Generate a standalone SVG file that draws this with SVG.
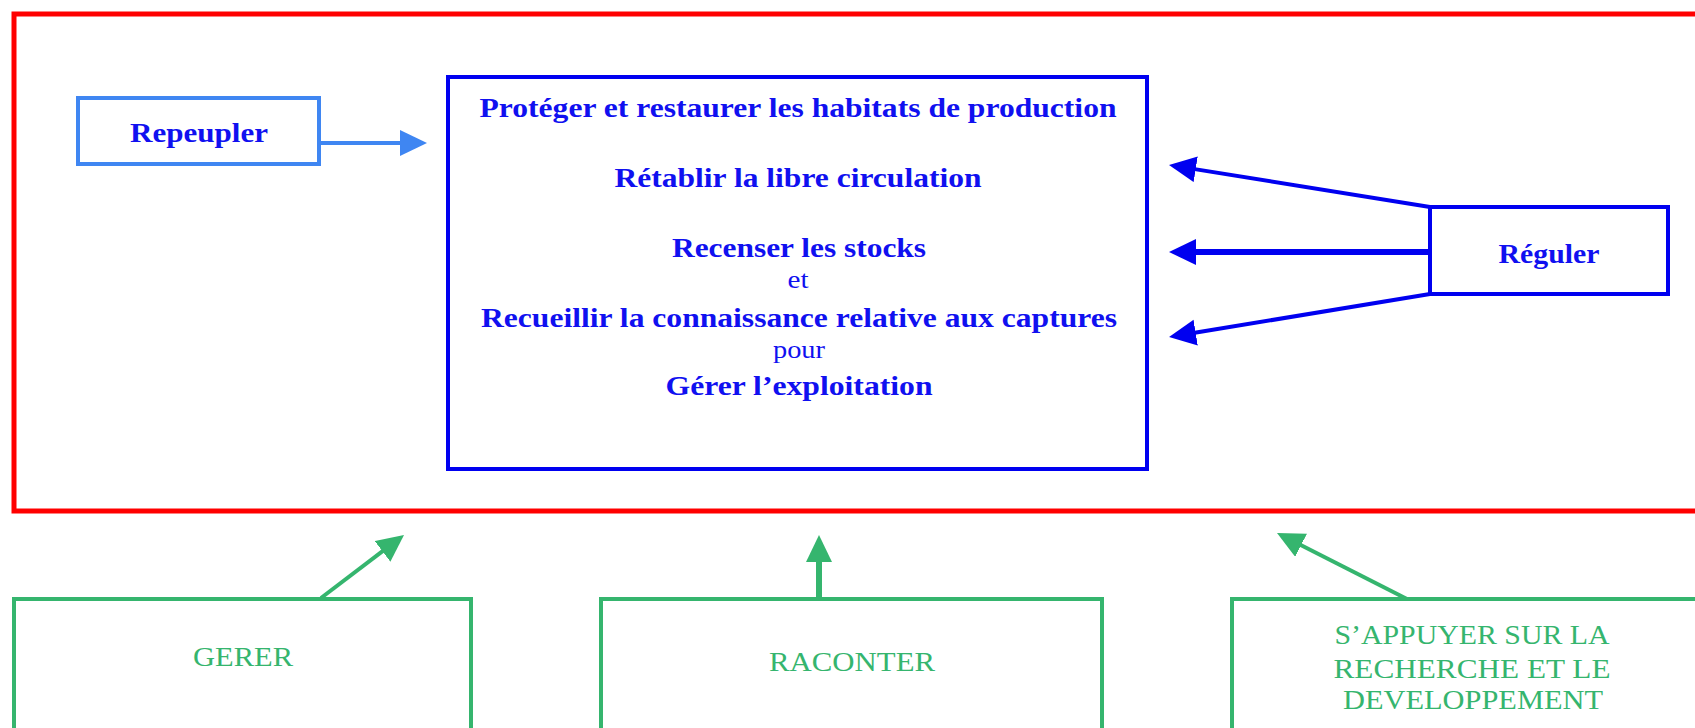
<svg xmlns="http://www.w3.org/2000/svg" width="1695" height="728" viewBox="0 0 1695 728">
<defs>
<style>
.frame{fill:none;stroke:#ff0000;stroke-width:5}
.bbox{fill:#ffffff;stroke:#0000f0;stroke-width:4}
.lbox{fill:#ffffff;stroke:#3f86f2;stroke-width:4}
.gbox{fill:#ffffff;stroke:#35b56e;stroke-width:4}
.bt{font-family:"Liberation Serif","Times New Roman",serif;font-weight:bold;font-size:28px;fill:#1010f0;text-anchor:middle}
.bs{font-family:"Liberation Serif","Times New Roman",serif;font-size:25px;fill:#1010f0;text-anchor:middle}
.gt{font-family:"Liberation Serif","Times New Roman",serif;font-size:27px;fill:#35b56e;text-anchor:middle}
.cb{stroke:#0000f0;fill:none}
.cl{stroke:#3f86f2;fill:none}
.cg{stroke:#35b56e;fill:none}
</style>
<marker id="ab" markerUnits="userSpaceOnUse" markerWidth="28" markerHeight="28" refX="1" refY="13" orient="auto"><path d="M0,0 L27,13 L0,26 z" fill="#0000f0"/></marker>
<marker id="al" markerUnits="userSpaceOnUse" markerWidth="28" markerHeight="28" refX="1" refY="13" orient="auto"><path d="M0,0 L27,13 L0,26 z" fill="#3f86f2"/></marker>
<marker id="ag" markerUnits="userSpaceOnUse" markerWidth="28" markerHeight="28" refX="1" refY="13" orient="auto"><path d="M0,0 L27,13 L0,26 z" fill="#35b56e"/></marker>
</defs>
<rect width="1695" height="728" fill="#ffffff"/>
<rect class="frame" x="14" y="14" width="1720" height="497"/>

<g id="connectors">
<line class="cl" x1="319" y1="143" x2="401" y2="143" stroke-width="4" marker-end="url(#al)"/>
<line class="cb" x1="1430" y1="207" x2="1194.7" y2="169.1" stroke-width="4" marker-end="url(#ab)"/>
<line class="cb" x1="1430" y1="252" x2="1195" y2="252" stroke-width="6" marker-end="url(#ab)"/>
<line class="cb" x1="1430" y1="294" x2="1194.7" y2="332.8" stroke-width="4" marker-end="url(#ab)"/>
<line class="cg" x1="321" y1="598" x2="383.3" y2="550.7" stroke-width="4" marker-end="url(#ag)"/>
<line class="cg" x1="819" y1="599" x2="819" y2="561" stroke-width="6" marker-end="url(#ag)"/>
<line class="cg" x1="1407" y1="599" x2="1300.2" y2="544.8" stroke-width="4" marker-end="url(#ag)"/>
</g>

<g id="repeupler">
<rect class="lbox" x="78" y="98" width="241" height="66"/>
<text class="bt" x="199" y="142" textLength="138" lengthAdjust="spacingAndGlyphs">Repeupler</text>
</g>

<g id="main">
<rect class="bbox" x="448" y="77" width="699" height="392"/>
<text class="bt" x="798" y="117" textLength="637" lengthAdjust="spacingAndGlyphs">Protéger et restaurer les habitats de production</text>
<text class="bt" x="798" y="187" textLength="367" lengthAdjust="spacingAndGlyphs">Rétablir la libre circulation</text>
<text class="bt" x="799" y="257" textLength="254" lengthAdjust="spacingAndGlyphs">Recenser les stocks</text>
<text class="bs" x="798" y="288" textLength="21" lengthAdjust="spacingAndGlyphs">et</text>
<text class="bt" x="799" y="327" textLength="636" lengthAdjust="spacingAndGlyphs">Recueillir la connaissance relative aux captures</text>
<text class="bs" x="799" y="358" textLength="52" lengthAdjust="spacingAndGlyphs">pour</text>
<text class="bt" x="799" y="395" textLength="267" lengthAdjust="spacingAndGlyphs">Gérer l’exploitation</text>
</g>

<g id="reguler">
<rect class="bbox" x="1430" y="207" width="238" height="87"/>
<text class="bt" x="1549" y="263" textLength="101" lengthAdjust="spacingAndGlyphs">Réguler</text>
</g>

<g id="gerer">
<rect class="gbox" x="14" y="599" width="457" height="140"/>
<text class="gt" x="243" y="666" textLength="100" lengthAdjust="spacingAndGlyphs">GERER</text>
</g>

<g id="raconter">
<rect class="gbox" x="601" y="599" width="501" height="140"/>
<text class="gt" x="852" y="671" textLength="166" lengthAdjust="spacingAndGlyphs">RACONTER</text>
</g>

<g id="recherche">
<rect class="gbox" x="1232" y="599" width="500" height="140"/>
<text class="gt" x="1472" y="644" textLength="275" lengthAdjust="spacingAndGlyphs">S’APPUYER SUR LA</text>
<text class="gt" x="1472" y="678" textLength="277" lengthAdjust="spacingAndGlyphs">RECHERCHE ET LE</text>
<text class="gt" x="1473" y="709" textLength="260" lengthAdjust="spacingAndGlyphs">DEVELOPPEMENT</text>
</g>
</svg>
